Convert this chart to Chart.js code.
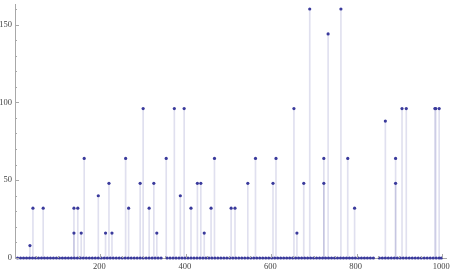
<!DOCTYPE html>
<html>
<head>
<meta charset="utf-8">
<script src="https://cdn.jsdelivr.net/npm/chart.js@4/dist/chart.umd.min.js"></script>
<style>
  body { margin: 0; background: #fff; }
  #wrap { width: 450px; height: 273px; position: relative; }
</style>
</head>
<body>
<div id="wrap"><canvas id="plot"></canvas></div>
<script>
// Points sitting on zero
const zeroX = [6, 13, 20, 27, 34, 41, 48, 55, 62, 69, 76, 83, 90, 97, 104, 111, 118, 125, 132, 139,
  146, 153, 160, 167, 174, 181, 188, 195, 202, 209, 216, 223, 230, 237, 244, 251, 258, 265, 272, 279,
  286, 293, 300, 307, 314, 321, 328, 335, 342, 356, 363, 370, 377, 384, 391, 398, 405, 412, 419, 426,
  433, 440, 447, 454, 461, 468, 475, 482, 489, 496, 503, 510, 517, 524, 531, 538, 545, 552, 559, 566,
  573, 580, 587, 594, 601, 608, 615, 622, 629, 636, 643, 650, 657, 664, 671, 678, 685, 692, 699, 706,
  713, 720, 727, 734, 741, 748, 755, 762, 769, 776, 783, 790, 797, 804, 811, 818, 825, 832, 839, 853,
  860, 867, 874, 881, 888, 895, 902, 909, 916, 923, 930, 937, 944, 951, 958, 965, 972, 979, 986, 993, 998];

// Non-zero points
const hitX = [35, 42, 66, 138, 138, 147, 155, 162, 195, 212, 220, 227, 259, 266, 293, 300, 314, 325, 332,
  354, 373, 387, 396, 412, 427, 435, 443, 459, 467, 506, 515, 545, 563, 604, 611, 653, 660, 676, 690,
  723, 723, 733, 763, 779, 795, 867, 891, 891, 906, 916, 983, 985, 993];
const hitY = [8, 32, 32, 32, 16, 32, 16, 64, 40, 16, 48, 16, 64, 32, 48, 96, 32, 48, 16,
  64, 96, 40, 96, 32, 48, 48, 16, 32, 64, 32, 32, 48, 64, 48, 64, 96, 16, 48, 160,
  64, 48, 144, 160, 64, 32, 88, 64, 48, 96, 96, 96, 96, 96];

const xTickLabels = [200, 400, 600, 800, 1000];
const yTickLabels = [0, 50, 100, 150];

const dotColor = 'rgb(58,58,156)';
const stemColor = 'rgba(61,61,153,0.16)';
const axisColor = '#a8a8a8';
const labelFont = { family: 'Liberation Serif', size: 8.5 };

const points = zeroX.map(x => ({ x: x, y: 0 }))
  .concat(hitX.map((x, i) => ({ x: x, y: hitY[i] })));
const stems = hitX.map((x, i) => ({ x: x, y: hitY[i] }));

// small inward tick marks, like the original axes
const tickMarks = {
  id: 'tickMarks',
  afterDraw(chart) {
    const ctx = chart.ctx;
    const a = chart.chartArea;
    const xs = chart.scales.x, ys = chart.scales.y;
    ctx.save();
    ctx.strokeStyle = axisColor;
    ctx.lineWidth = 1;
    for (let v = 0; v <= 160; v += 10) {
      const len = yTickLabels.includes(v) ? 4 : 2;
      const py = Math.round(ys.getPixelForValue(v)) + 0.5;
      ctx.beginPath();
      ctx.moveTo(a.left, py);
      ctx.lineTo(a.left + len, py);
      ctx.stroke();
    }
    for (let v = 50; v <= 1000; v += 50) {
      const len = xTickLabels.includes(v) ? 4 : 2;
      const px = Math.round(xs.getPixelForValue(v)) + 0.5;
      ctx.beginPath();
      ctx.moveTo(px, a.bottom);
      ctx.lineTo(px, a.bottom - len);
      ctx.stroke();
    }
    ctx.restore();
  }
};

new Chart(document.getElementById('plot'), {
  type: 'scatter',
  data: {
    datasets: [{
      data: points,
      backgroundColor: dotColor,
      borderWidth: 0,
      pointRadius: 1.6,
      clip: false,
      order: 1
    }, {
      type: 'bar',
      data: stems,
      backgroundColor: stemColor,
      barThickness: 1,
      grouped: false,
      order: 2
    }]
  },
  options: {
    responsive: true,
    maintainAspectRatio: false,
    animation: false,
    layout: { padding: { top: 1, right: 0, left: 0, bottom: 0 } },
    plugins: { legend: { display: false }, tooltip: { enabled: false } },
    scales: {
      x: {
        type: 'linear',
        offset: false,
        min: 0,
        max: 1009,
        grid: { display: false, drawTicks: false, offset: false },
        border: { display: true, color: axisColor },
        afterBuildTicks: s => { s.ticks = xTickLabels.map(v => ({ value: v })); },
        ticks: {
          autoSkip: false,
          maxRotation: 0,
          padding: 4,
          labelOffset: -1,
          color: '#444',
          font: labelFont,
          callback: v => String(v)
        },
        afterFit: s => { s.height = 15; s.paddingLeft = 0; s.paddingRight = 0; }
      },
      y: {
        min: 0,
        max: 163.2,
        grid: { display: false, drawTicks: false },
        border: { display: true, color: axisColor },
        afterBuildTicks: s => { s.ticks = yTickLabels.map(v => ({ value: v })); },
        ticks: {
          autoSkip: false,
          padding: 3,
          color: '#444',
          font: labelFont,
          callback: v => String(v)
        },
        afterFit: s => { s.width = 15; s.paddingTop = 0; s.paddingBottom = 0; }
      }
    }
  },
  plugins: [tickMarks]
});
</script>
</body>
</html>
